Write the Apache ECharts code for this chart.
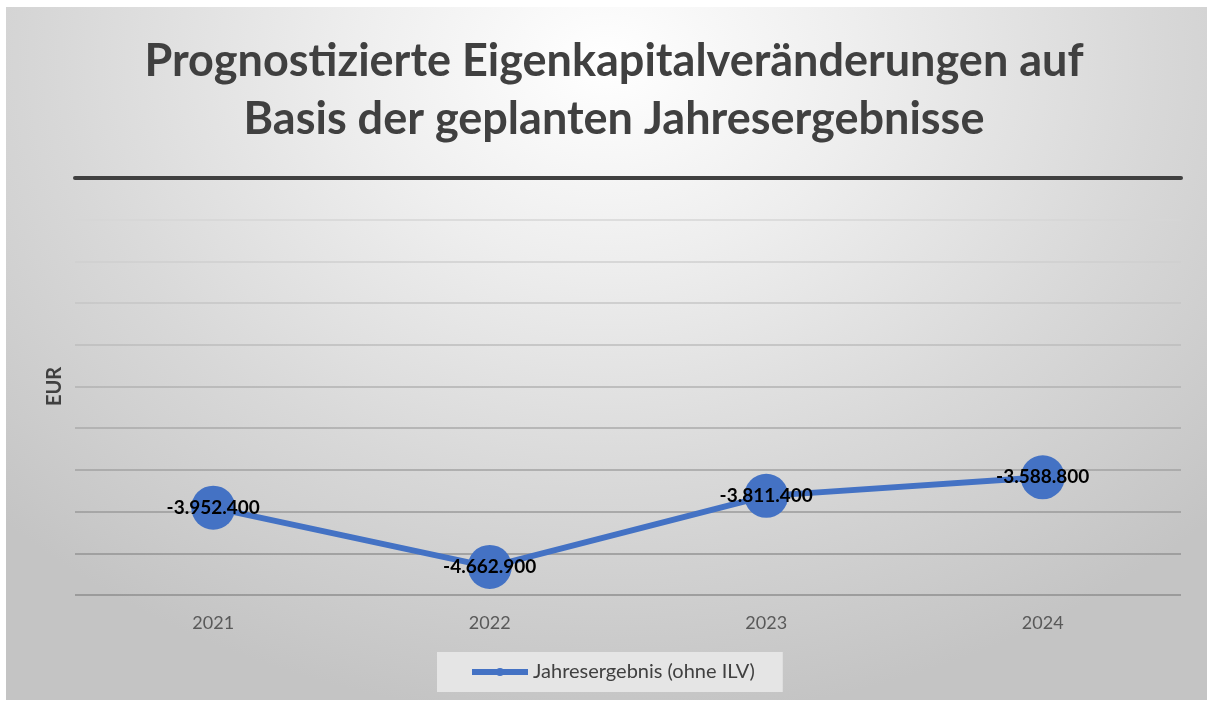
<!DOCTYPE html>
<html>
<head>
<meta charset="utf-8">
<script src="https://cdn.jsdelivr.net/npm/echarts@6/dist/echarts.min.js"></script>
<style>
  html, body { margin: 0; padding: 0; background: #ffffff; }
  #bg {
    position: absolute; left: 6px; top: 7px; width: 1201px; height: 693px;
    background: radial-gradient(ellipse 70% 95% at 50% 8%, #ffffff 0%, #eeeeee 30%, #d8d8d8 65%, #c4c4c4 100%);
  }
  #chart { position: absolute; left: 0; top: 0; width: 1209px; height: 702px; }
</style>
</head>
<body>
<div id="bg"></div>
<div id="chart"></div>
<script>
// Planned annual results (EUR)
const years = ['2021', '2022', '2023', '2024'];
const jahresergebnis = [-3952400, -4662900, -3811400, -3588800];
const seriesName = 'Jahresergebnis (ohne ILV)';

// Value axis range
const yMin = -5000000;
const yMax = 0;
const yStep = 500000;

// German thousands separator
function fmtDE(v) {
  const s = Math.abs(v).toString().replace(/\B(?=(\d{3})+(?!\d))/g, '.');
  return (v < 0 ? '-' : '') + s;
}

// Gridlines get lighter towards the top of the plot
const gridColors = ['#8e8e8e', '#939393', '#9a9a9a', '#a2a2a2', '#aaaaaa', '#b2b2b2',
                    '#bcbcbc', '#c6c6c6', '#cfcfcf', '#d6d6d6', '#dddddd'];

const chart = echarts.init(document.getElementById('chart'), null, { renderer: 'canvas' });

chart.setOption({
  backgroundColor: 'transparent',
  animation: false,
  title: {
    text: 'Prognostizierte Eigenkapitalveränderungen auf\nBasis der geplanten Jahresergebnisse',
    left: 609,
    top: 27,
    textAlign: 'center',
    textStyle: {
      fontFamily: 'Lato',
      fontWeight: 'bold',
      fontSize: 45,
      lineHeight: 58,
      color: '#404040'
    }
  },
  legend: {
    data: [seriesName],
    left: 437,
    top: 652,
    padding: [10, 28, 10, 32],
    backgroundColor: 'rgba(232,232,232,0.9)',
    itemWidth: 56,
    itemHeight: 10,
    itemGap: 6,
    lineStyle: { width: 6 },
    textStyle: { fontFamily: 'Lato', fontSize: 20, color: '#404040' }
  },
  grid: { left: 75, right: 28, top: 178, bottom: 107, containLabel: false },
  xAxis: [
    {
      type: 'category',
      data: years,
      position: 'bottom',
      boundaryGap: true,
      axisLine: { show: false, onZero: false },
      axisTick: { show: false },
      axisLabel: { margin: 19, fontFamily: 'Lato', fontSize: 18, color: '#595959' }
    },
    {
      type: 'category',
      data: years,
      position: 'top',
      axisLine: { show: true, onZero: false, lineStyle: { color: '#404040', width: 4 } },
      axisTick: { show: false },
      axisLabel: { show: false }
    }
  ],
  yAxis: {
    type: 'value',
    min: yMin,
    max: yMax,
    interval: yStep,
    name: 'EUR',
    nameLocation: 'middle',
    nameRotate: 90,
    nameGap: 10,
    nameTextStyle: { fontFamily: 'Lato', fontWeight: 'bold', fontSize: 20, color: '#404040' },
    axisLine: { show: false },
    axisTick: { show: false },
    axisLabel: { show: false },
    splitLine: { show: true, lineStyle: { color: gridColors, width: 1.5 } }
  },
  series: [
    {
      name: seriesName,
      type: 'line',
      xAxisIndex: 0,
      data: jahresergebnis,
      symbol: 'circle',
      symbolSize: 44,
      lineStyle: { color: '#4472C4', width: 6 },
      itemStyle: { color: '#4472C4' },
      label: {
        show: true,
        position: 'inside',
        formatter: p => fmtDE(p.value),
        fontFamily: 'Lato',
        fontWeight: 'bold',
        fontSize: 19,
        color: '#000000'
      }
    }
  ]
});
</script>
</body>
</html>
